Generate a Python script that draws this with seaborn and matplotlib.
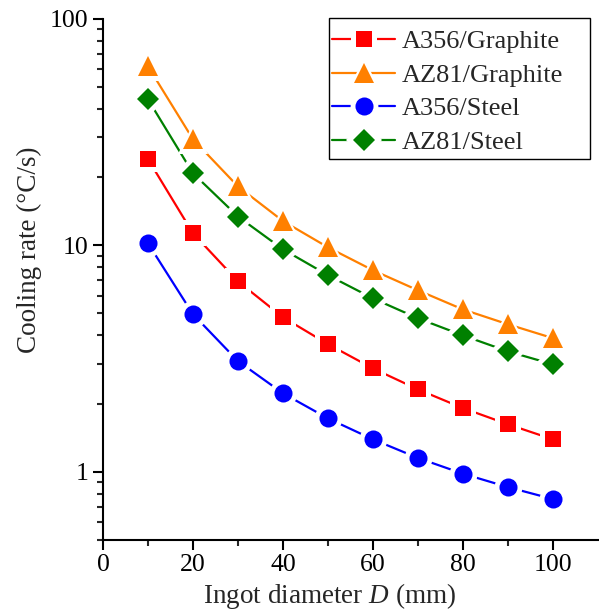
import numpy as np
import pandas as pd
import matplotlib
matplotlib.use("Agg")
import matplotlib.pyplot as plt
import seaborn as sns
from matplotlib.ticker import FixedLocator, FixedFormatter, NullFormatter
from matplotlib.legend_handler import HandlerTuple
from matplotlib.patches import Rectangle

diameter = [10, 20, 30, 40, 50, 60, 70, 80, 90, 100]
a356_graphite = [24.0, 11.3, 6.93, 4.81, 3.66, 2.86, 2.31, 1.91, 1.62, 1.39]
az81_graphite = [61.7, 29.4, 18.2, 12.8, 9.8, 7.76, 6.33, 5.21, 4.48, 3.89]
a356_steel = [10.2, 4.96, 3.08, 2.22, 1.72, 1.39, 1.15, 0.98, 0.855, 0.757]
az81_steel = [44.1, 20.8, 13.4, 9.6, 7.38, 5.83, 4.76, 4.0, 3.40, 2.98]

series = [
    ("A356/Graphite", a356_graphite, "#FF0000", "s", 12),
    ("AZ81/Graphite", az81_graphite, "#FF8000", "^", 14),
    ("A356/Steel", a356_steel, "#0000FF", "o", 13),
    ("AZ81/Steel", az81_steel, "#008000", "D", 11),
]

sns.set_style("ticks")
plt.rcParams["font.family"] = ["Liberation Serif", "DejaVu Serif"]
plt.rcParams["mathtext.fontset"] = "custom"
plt.rcParams["mathtext.rm"] = "Liberation Serif"
plt.rcParams["mathtext.it"] = "Liberation Serif:italic"

W, H = 599, 610
fig = plt.figure(figsize=(5.99, 6.10), dpi=100)
ax = fig.add_axes([0.172, 0.115, 0.826, 0.854])

handles = []
for name, vals, col, mk, ms in series:
    df = pd.DataFrame({"x": diameter, "y": vals})
    sns.lineplot(data=df, x="x", y="y", color=col, lw=1.6, ax=ax, zorder=2)
    sns.lineplot(data=df, x="x", y="y", color="white", marker=mk, markersize=ms + 7,
                 markeredgewidth=0, linestyle="", ax=ax, zorder=3)
    sns.lineplot(data=df, x="x", y="y", color=col, marker=mk, markersize=ms,
                 markeredgewidth=0, linestyle="", ax=ax, zorder=4)
    l1, = ax.plot([], [], color=col, lw=1.6)
    l2, = ax.plot([], [], color="white", marker=mk, markersize=ms + 7, markeredgewidth=0, linestyle="")
    l3, = ax.plot([], [], color=col, marker=mk, markersize=ms, markeredgewidth=0, linestyle="")
    handles.append((l1, l2, l3))

ax.set_yscale("log")
ax.set_xlim(0, 110)
ax.set_ylim(0.5, 100)
ax.xaxis.set_major_locator(FixedLocator([0, 20, 40, 60, 80, 100]))
ax.xaxis.set_minor_locator(FixedLocator([10, 30, 50, 70, 90]))
ax.yaxis.set_major_locator(FixedLocator([1, 10, 100]))
ax.yaxis.set_major_formatter(FixedFormatter(["1", "10", "100"]))
minors = [m * d for d in (0.1, 1, 10) for m in range(2, 10) if 0.5 <= m * d <= 100]
ax.yaxis.set_minor_locator(FixedLocator(minors))
ax.yaxis.set_minor_formatter(NullFormatter())

for s in ("top", "right"):
    ax.spines[s].set_visible(False)
for s in ("left", "bottom"):
    ax.spines[s].set_linewidth(1.5)
    ax.spines[s].set_color("black")

ax.tick_params(which="major", direction="out", length=7, width=1.5, labelsize=18.5, colors="black")
ax.tick_params(which="minor", direction="out", length=4, width=1.5)

ax.set_xlabel("Ingot diameter $D$ (mm)", fontsize=19.5)
ax.set_ylabel("Cooling rate (°C/s)", fontsize=19.5)
ax.xaxis.set_label_coords(0.457, -0.079)
ax.yaxis.set_label_coords(-0.123, 0.557)

leg = ax.legend(handles, [s[0] for s in series], handler_map={tuple: HandlerTuple(ndivide=1, pad=0)},
                loc="upper left", bbox_to_anchor=(332 / W, 1 - 30 / H), bbox_transform=fig.transFigure,
                fontsize=19, frameon=False,
                handlelength=2.4, borderpad=0.0, labelspacing=0.38, handletextpad=0.25,
                borderaxespad=0.0)
fig.patches.append(Rectangle((329 / W, 1 - 159 / H), (590 - 329) / W, (159 - 18) / H,
                             transform=fig.transFigure, fill=False, edgecolor="black",
                             linewidth=1.0, zorder=5))

fig.savefig("out.png", dpi=100)
